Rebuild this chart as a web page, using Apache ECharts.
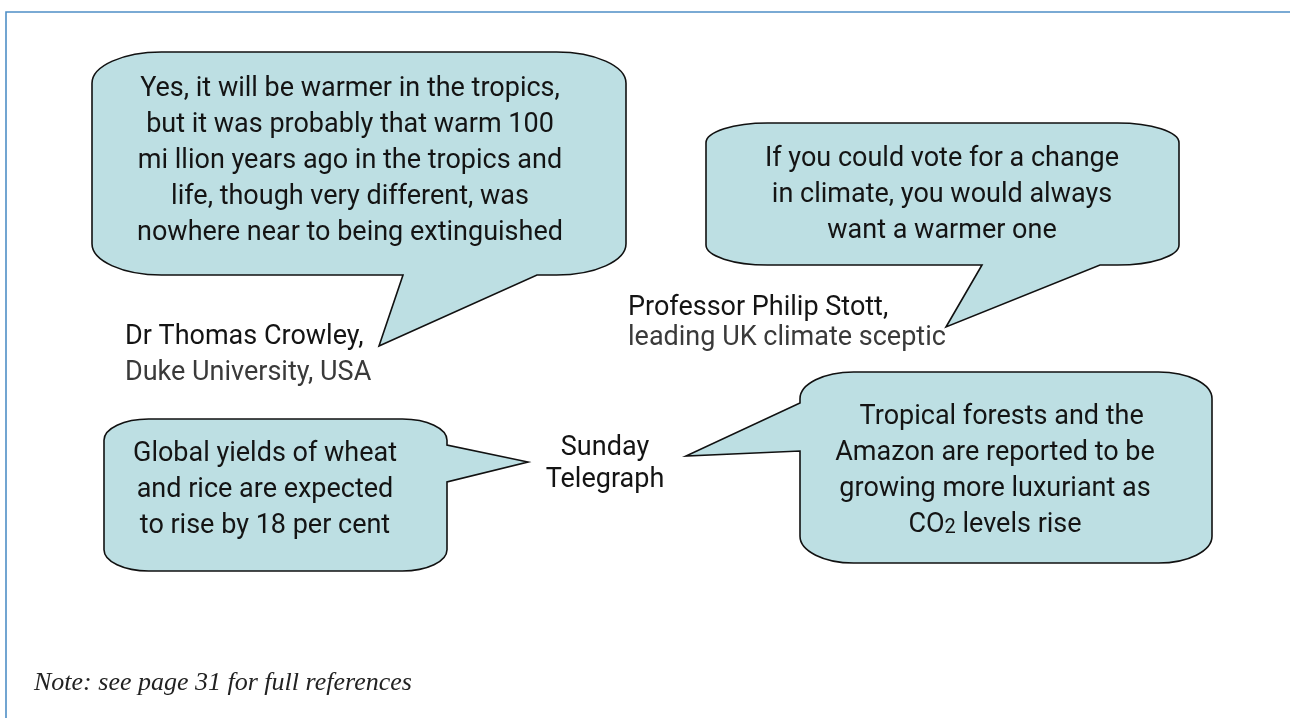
<!DOCTYPE html>
<html>
<head>
<meta charset="utf-8">
<title>Climate sceptic quotes</title>
<script src="https://cdn.jsdelivr.net/npm/echarts@6/dist/echarts.min.js"></script>
<style>
  html, body { margin: 0; padding: 0; background: #fff; }
  #chart { width: 1290px; height: 718px; }
</style>
</head>
<body>
<div id="chart"></div>
<script>
// what each bubble says, one entry per line
const quoteLines = [
  ['Yes, it will be warmer in the tropics,', 'but it was probably that warm 100', 'mi llion years ago in the tropics and', 'life, though very different, was', 'nowhere near to being extinguished'],
  ['If you could vote for a change', 'in climate, you would always', 'want a warmer one'],
  ['Global yields of wheat', 'and rice are expected', 'to rise by 18 per cent'],
  ['  Tropical forests and the', 'Amazon are reported to be', 'growing more luxuriant as', 'CO{sub|2} levels rise']
]
const speakerNames = ['Dr Thomas Crowley,', 'Professor Philip Stott,', 'Sunday\nTelegraph']
const speakerRoles = ['Duke University, USA', 'leading UK climate sceptic', '']
const noteText = 'Note: see page 31 for full references'

// layout, in page pixels (hidden axes run 0..1290 and 0..718)
const bubbleBox = [[92, 52, 626, 275], [706, 123, 1179, 265], [104, 419, 447, 571], [800, 372, 1212, 563]]
const tailSide = ['bottom', 'bottom', 'right', 'left']
const tailBase = [[403, 537], [982, 1100], [445, 482], [403, 451]]
const tailTip = [[379, 346], [946, 327], [528, 462], [686, 456]]
const textCenter = [[350, 161], [942, 195], [265, 490], [995, 471]]
const namePos = [[125, 337], [628, 308], [605, 464]]
const nameAlign = ['left', 'left', 'center']
const rolePos = [[125, 373], [628, 338], [0, 0]]

const FILL = '#bddfe3'
const SANS = 'Roboto, "Noto Sans", sans-serif'
const K = 0.5523

const chart = echarts.init(document.getElementById('chart'))

const bubblePath = (i, api) => {
  const [x0, y0] = api.coord([api.value(0), api.value(1)])
  const [x1, y1] = api.coord([api.value(2), api.value(3)])
  const rx = (x1 - x0) * 0.13
  const ry = (y1 - y0) * 0.14
  const side = tailSide[i]
  const tip = api.coord(tailTip[i])
  const [b0, b1] = tailBase[i]
  const p = []
  p.push(`M ${x0 + rx} ${y0}`, `L ${x1 - rx} ${y0}`)
  p.push(`C ${x1 - rx + K * rx} ${y0} ${x1} ${y0 + ry - K * ry} ${x1} ${y0 + ry}`)
  if (side === 'right') {
    const a = api.coord([0, b0])[1]
    const b = api.coord([0, b1])[1]
    p.push(`L ${x1} ${a}`, `L ${tip[0]} ${tip[1]}`, `L ${x1} ${b}`)
  }
  p.push(`L ${x1} ${y1 - ry}`)
  p.push(`C ${x1} ${y1 - ry + K * ry} ${x1 - rx + K * rx} ${y1} ${x1 - rx} ${y1}`)
  if (side === 'bottom') {
    const a = api.coord([b1, 0])[0]
    const b = api.coord([b0, 0])[0]
    p.push(`L ${a} ${y1}`, `L ${tip[0]} ${tip[1]}`, `L ${b} ${y1}`)
  }
  p.push(`L ${x0 + rx} ${y1}`)
  p.push(`C ${x0 + rx - K * rx} ${y1} ${x0} ${y1 - ry + K * ry} ${x0} ${y1 - ry}`)
  if (side === 'left') {
    const a = api.coord([0, b1])[1]
    const b = api.coord([0, b0])[1]
    p.push(`L ${x0} ${a}`, `L ${tip[0]} ${tip[1]}`, `L ${x0} ${b}`)
  }
  p.push(`L ${x0} ${y0 + ry}`)
  p.push(`C ${x0} ${y0 + ry - K * ry} ${x0 + rx - K * rx} ${y0} ${x0 + rx} ${y0}`)
  p.push('Z')
  return p.join(' ')
}

const renderBubble = (params, api) => {
  const i = params.dataIndex
  const c = api.coord(textCenter[i])
  return {
    type: 'group',
    children: [
      {
        type: 'path',
        shape: { pathData: bubblePath(i, api) },
        style: { fill: FILL, stroke: '#111', lineWidth: 1.6, lineJoin: 'miter' }
      },
      {
        type: 'text',
        x: c[0],
        y: c[1],
        style: {
          text: quoteLines[i].join('\n'),
          font: `27px ${SANS}`,
          fill: '#141414',
          align: 'center',
          verticalAlign: 'middle',
          lineHeight: 36,
          rich: {
            sub: { font: `20px ${SANS}`, fill: '#141414', lineHeight: 36, padding: [6, 0, 0, 0] }
          }
        }
      }
    ]
  }
}

const renderSpeaker = (params, api) => {
  const i = params.dataIndex
  const n = api.coord(namePos[i])
  const children = [{
    type: 'text',
    x: n[0],
    y: n[1],
    style: {
      text: speakerNames[i],
      font: `27px ${SANS}`,
      fill: '#141414',
      align: nameAlign[i],
      verticalAlign: 'middle',
      lineHeight: 32
    }
  }]
  if (speakerRoles[i]) {
    const r = api.coord(rolePos[i])
    children.push({
      type: 'text',
      x: r[0],
      y: r[1],
      style: {
        text: speakerRoles[i],
        font: `27px ${SANS}`,
        fill: '#3a3a3a',
        align: 'left',
        verticalAlign: 'middle'
      }
    })
  }
  return { type: 'group', children }
}

const option = {
  animation: false,
  backgroundColor: '#fff',
  grid: { left: 0, right: 0, top: 0, bottom: 0 },
  xAxis: { type: 'value', min: 0, max: 1290, show: false },
  yAxis: { type: 'value', min: 0, max: 718, inverse: true, show: false },
  graphic: [
    {
      type: 'polyline',
      shape: { points: [[6, 730], [6, 12], [1300, 12]] },
      style: { stroke: '#4f8fc6', lineWidth: 1.6, fill: null }
    },
    {
      type: 'text',
      left: 34,
      top: 670,
      style: {
        text: noteText,
        font: 'italic 26px "Liberation Serif", serif',
        fill: '#222'
      }
    }
  ],
  series: [
    {
      type: 'custom',
      renderItem: renderBubble,
      encode: { x: [0, 2], y: [1, 3] },
      data: bubbleBox.map(b => b.slice()),
      silent: true
    },
    {
      type: 'custom',
      renderItem: renderSpeaker,
      encode: { x: 0, y: 1 },
      data: namePos.map(p => p.slice()),
      silent: true
    }
  ]
}

chart.setOption(option)
window.addEventListener('resize', () => chart.resize())
</script>
</body>
</html>
